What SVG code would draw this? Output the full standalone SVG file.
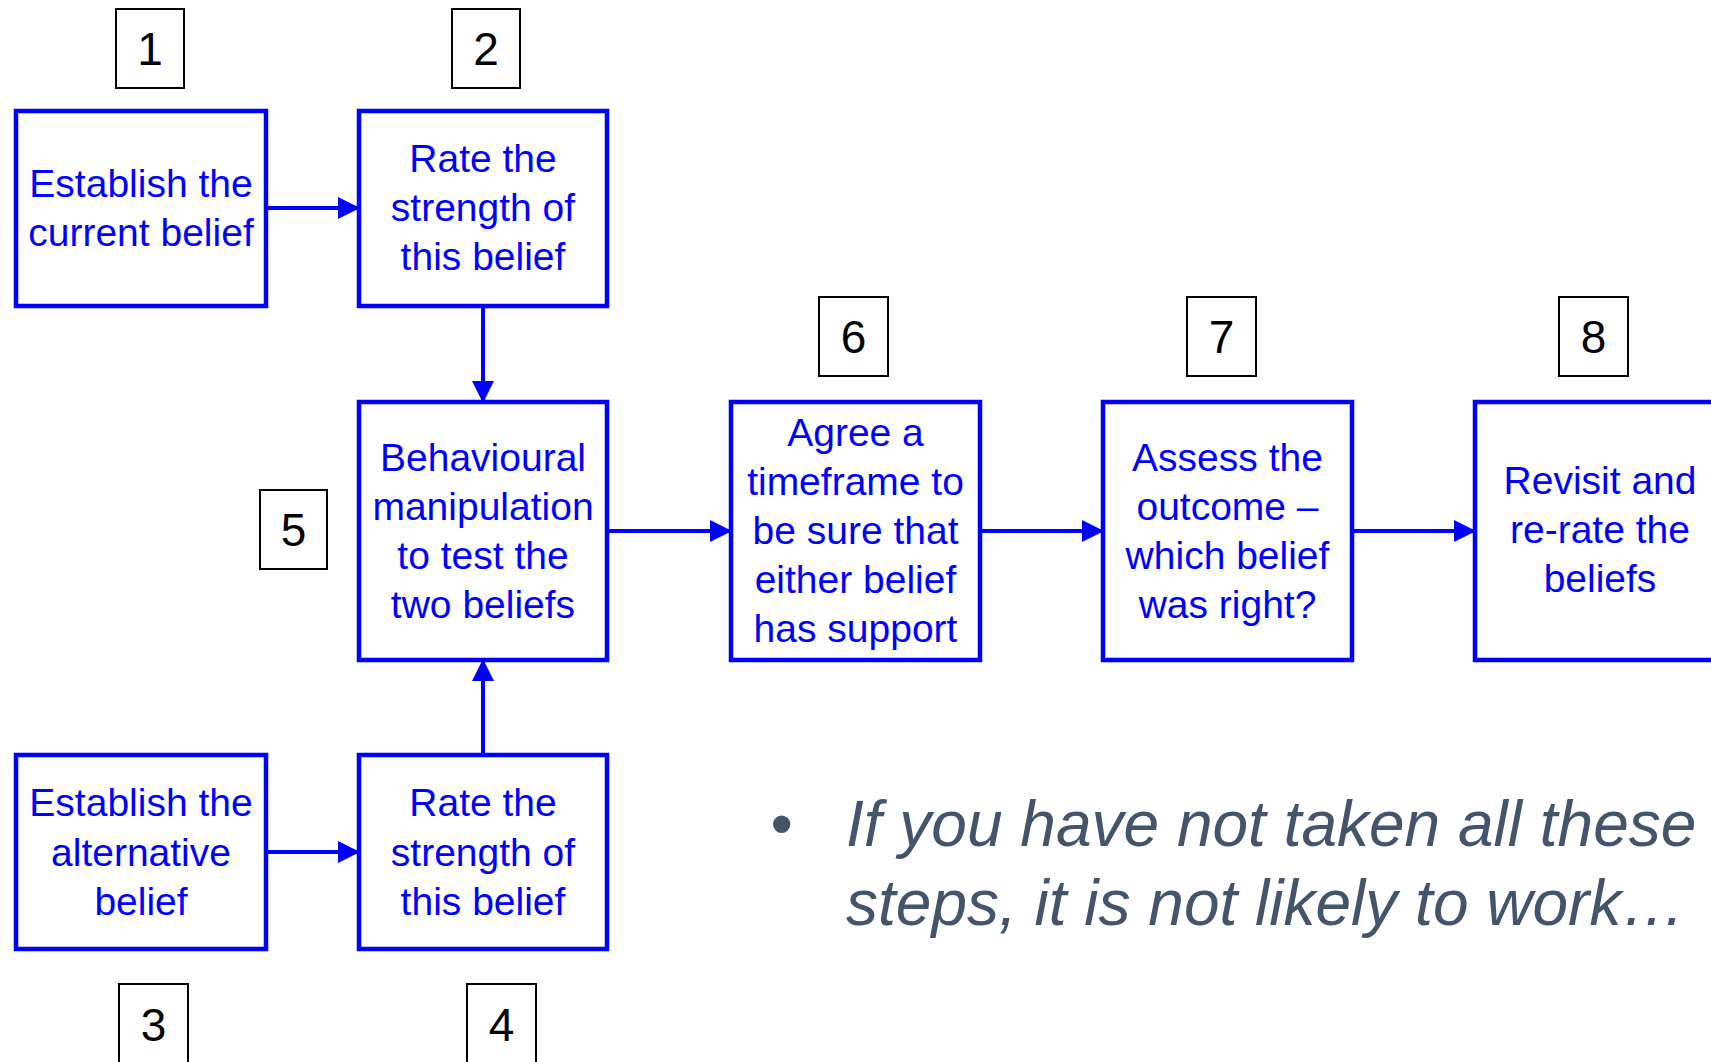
<svg xmlns="http://www.w3.org/2000/svg" width="1711" height="1062" viewBox="0 0 1711 1062">
<defs>
<marker id="ah" markerWidth="5.5" markerHeight="5.5" refX="5" refY="2.75" orient="auto" markerUnits="strokeWidth">
<path d="M0,0 L5.5,2.75 L0,5.5 Z" fill="#0000FF"/>
</marker>
<style>
.box{fill:#fff;stroke:#0000FF;stroke-width:4.5}
.bt{font-family:"Liberation Sans",Arial,sans-serif;font-size:39px;fill:#0000FF;text-anchor:middle}
.num{fill:#fff;stroke:#000;stroke-width:2}
.nt{font-family:"Liberation Sans",Arial,sans-serif;font-size:46px;fill:#000;text-anchor:middle}
.con{stroke:#0000FF;stroke-width:4;fill:none;marker-end:url(#ah)}
.bul{font-family:"Liberation Sans",Arial,sans-serif;font-size:64px;font-style:italic;fill:#44546A}
</style>
</defs>
<rect width="1711" height="1062" fill="#fff"/>
<g id="connectors">
<line class="con" x1="266" y1="208" x2="358" y2="208"/>
<line class="con" x1="483" y1="306" x2="483" y2="401"/>
<line class="con" x1="266" y1="852" x2="358" y2="852"/>
<line class="con" x1="483" y1="755" x2="483" y2="661"/>
<line class="con" x1="607" y1="531" x2="730" y2="531"/>
<line class="con" x1="980" y1="531" x2="1102" y2="531"/>
<line class="con" x1="1352" y1="531" x2="1474" y2="531"/>
</g>
<g id="label1"><rect class="num" x="116" y="9" width="68" height="79"/><text class="nt" x="150" y="65">1</text></g>
<g id="label2"><rect class="num" x="452" y="9" width="68" height="79"/><text class="nt" x="486" y="65">2</text></g>
<g id="label3"><rect class="num" x="119" y="984" width="69" height="82"/><text class="nt" x="153.5" y="1041">3</text></g>
<g id="label4"><rect class="num" x="467" y="984" width="69" height="82"/><text class="nt" x="501.5" y="1041">4</text></g>
<g id="label5"><rect class="num" x="260" y="490" width="67" height="79"/><text class="nt" x="293.5" y="546">5</text></g>
<g id="label6"><rect class="num" x="819" y="297" width="69" height="79"/><text class="nt" x="853.5" y="353">6</text></g>
<g id="label7"><rect class="num" x="1187" y="297" width="69" height="79"/><text class="nt" x="1221.5" y="353">7</text></g>
<g id="label8"><rect class="num" x="1559" y="297" width="69" height="79"/><text class="nt" x="1593.5" y="353">8</text></g>
<g id="node1"><rect class="box" x="16" y="111" width="250" height="195"/>
<text class="bt" x="141" y="197">Establish the</text><text class="bt" x="141" y="246">current belief</text></g>
<g id="node2"><rect class="box" x="359" y="111" width="248" height="195"/>
<text class="bt" x="483" y="172">Rate the</text><text class="bt" x="483" y="221">strength of</text><text class="bt" x="483" y="270">this belief</text></g>
<g id="node3"><rect class="box" x="16" y="755" width="250" height="194"/>
<text class="bt" x="141" y="816">Establish the</text><text class="bt" x="141" y="866">alternative</text><text class="bt" x="141" y="915">belief</text></g>
<g id="node4"><rect class="box" x="359" y="755" width="248" height="194"/>
<text class="bt" x="483" y="816">Rate the</text><text class="bt" x="483" y="866">strength of</text><text class="bt" x="483" y="915">this belief</text></g>
<g id="node5"><rect class="box" x="359" y="402" width="248" height="258"/>
<text class="bt" x="483" y="471">Behavioural</text><text class="bt" x="483" y="520">manipulation</text><text class="bt" x="483" y="569">to test the</text><text class="bt" x="483" y="618">two beliefs</text></g>
<g id="node6"><rect class="box" x="731" y="402" width="249" height="258"/>
<text class="bt" x="855.5" y="446">Agree a</text><text class="bt" x="855.5" y="495">timeframe to</text><text class="bt" x="855.5" y="544">be sure that</text><text class="bt" x="855.5" y="593">either belief</text><text class="bt" x="855.5" y="642">has support</text></g>
<g id="node7"><rect class="box" x="1103" y="402" width="249" height="258"/>
<text class="bt" x="1227.5" y="471">Assess the</text><text class="bt" x="1227.5" y="520">outcome –</text><text class="bt" x="1227.5" y="569">which belief</text><text class="bt" x="1227.5" y="618">was right?</text></g>
<g id="node8"><rect class="box" x="1475" y="402" width="249" height="258"/>
<text class="bt" x="1600" y="494">Revisit and</text><text class="bt" x="1600" y="543">re-rate the</text><text class="bt" x="1600" y="592">beliefs</text></g>
<g id="note">
<text class="bul" x="770" y="846" font-style="normal">•</text>
<text class="bul" x="846" y="846">If you have not taken all these</text>
<text class="bul" x="846" y="925">steps, it is not likely to work…</text>
</g>
</svg>
